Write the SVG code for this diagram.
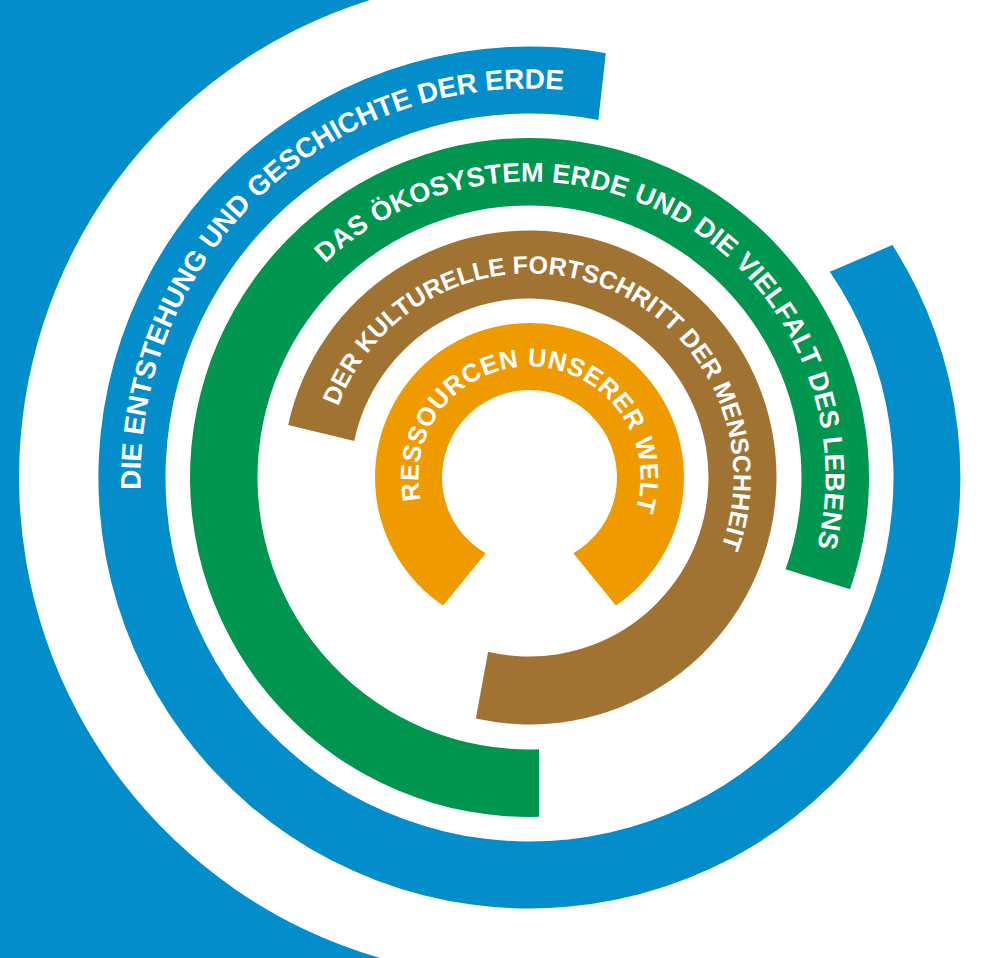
<svg xmlns="http://www.w3.org/2000/svg" xmlns:xlink="http://www.w3.org/1999/xlink" width="988" height="958" viewBox="0 0 988 958">
  <style>
    .lbl { font-family: "Liberation Sans", Arial, "Noto Sans", sans-serif; font-weight: bold; fill: #ffffff; }
    .blue { fill: #038dca; }
    .green { fill: #009650; }
    .brown { fill: #a07333; }
    .orange { fill: #ef9b00; }
  </style>
  <defs>
    <path id="tp-blue" d="M140.69,489.72 A389,389 0 0 1 651.0,107.96"/>
    <path id="tp-green" d="M325.0,263.5 A296,296 0 0 1 794.86,608.65"/>
    <path id="tp-brown" d="M338.29,406.39 A204,204 0 1 1 684.85,609.72"/>
    <path id="tp-orange" d="M420.85,500.2 A111,111 0 1 1 616.76,546.1"/>
  </defs>
  <rect width="988" height="958" fill="#ffffff"/>
  <g id="background">
    <path class="blue" d="M0,0 H370 A500.3,500.3 0 0 0 380,958 H0 Z"/>
  </g>
  <g id="ring-blue">
    <path class="blue" d="M605.8,53.3 A431,431 0 1 0 892.4,245.1 L829.8,271.8 A364,364 0 1 1 598.3,120.07 Z"/>
    <text class="lbl" font-size="28"><textPath xlink:href="#tp-blue" href="#tp-blue" textLength="657" lengthAdjust="spacing">DIE ENTSTEHUNG UND GESCHICHTE DER ERDE</textPath></text>
  </g>
  <g id="ring-green">
    <path class="green" d="M850.06,589.3 A339.5,339.5 0 1 0 539,816.87 L539,749.33 A272,272 0 1 1 785.56,569.23 Z"/>
    <text class="lbl" font-size="27"><textPath xlink:href="#tp-green" href="#tp-green" textLength="761" lengthAdjust="spacing">DAS ÖKOSYSTEM ERDE UND DIE VIELFALT DES LEBENS</textPath></text>
  </g>
  <g id="ring-brown">
    <path class="brown" d="M288.17,424.88 A247,247 0 1 1 475.87,718.61 L488.08,651.64 A179,179 0 1 0 354.25,441.05 Z"/>
    <text class="lbl" font-size="25"><textPath xlink:href="#tp-brown" href="#tp-brown" textLength="639" lengthAdjust="spacing">DER KULTURELLE FORTSCHRITT DER MENSCHHEIT</textPath></text>
  </g>
  <g id="ring-orange">
    <path class="orange" d="M443.11,605.59 A154.5,154.5 0 1 1 615.89,605.59 L573.25,553.28 A87.5,87.5 0 1 0 485.75,553.28 Z"/>
    <text class="lbl" font-size="25.5"><textPath xlink:href="#tp-orange" href="#tp-orange" textLength="405" lengthAdjust="spacing">RESSOURCEN UNSERER WELT</textPath></text>
  </g>
</svg>
